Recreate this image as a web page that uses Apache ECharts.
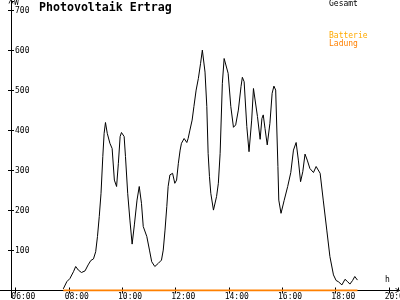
<!DOCTYPE html>
<html><head><meta charset="utf-8">
<script src="https://cdn.jsdelivr.net/npm/echarts@6/dist/echarts.min.js"></script>
<style>html,body{margin:0;padding:0;background:#fff}#c{width:400px;height:300px}</style>
</head><body><div id="c"></div>
<script>
// ---- data ----
const times = ['7:47','7:55','8:02','8:10','8:15','8:21','8:28','8:36','8:43','8:49','8:55','9:00','9:04','9:08','9:12','9:16','9:19','9:22','9:26','9:32','9:37','9:42','9:47','9:51','9:55','9:58','10:04','10:07','10:12','10:17','10:22','10:27','10:33','10:38','10:43','10:47','10:55','11:01','11:06','11:13','11:21','11:28','11:32','11:36','11:40','11:43','11:47','11:53','11:58','12:02','12:06','12:10','12:13','12:19','12:25','12:28','12:32','12:37','12:41','12:46','12:51','12:56','13:00','13:06','13:10','13:13','13:16','13:19','13:25','13:32','13:36','13:40','13:45','13:49','13:53','13:58','14:04','14:10','14:15','14:21','14:27','14:30','14:34','14:40','14:45','14:51','14:55','14:58','15:04','15:10','15:14','15:17','15:21','15:26','15:32','15:37','15:41','15:45','15:50','15:52','15:57','16:04','16:12','16:19','16:25','16:31','16:36','16:41','16:46','16:51','16:56','17:02','17:10','17:16','17:20','17:25','17:32','17:40','17:47','17:55','18:01','18:06','18:14','18:21','18:27','18:32','18:38','18:43','18:49'];
const gesamt = [4,22,30,47,60,51,45,49,64,75,79,97,135,185,243,335,393,420,393,368,355,276,260,318,385,395,385,335,243,176,116,164,226,260,218,160,135,101,72,60,68,76,101,151,210,260,289,293,268,276,318,351,368,380,370,380,401,426,460,501,530,568,601,546,460,343,285,243,201,235,268,343,518,580,583,543,460,408,414,451,510,533,522,410,347,426,505,503,435,378,430,439,405,364,418,493,511,501,310,226,193,225,260,295,351,370,326,272,297,341,326,305,295,310,314,293,226,151,85,39,25,22,14,28,22,16,25,35,26];
const ladungTimes = ['7:47','18:49'];
const ladung = [0, 0];
const seriesNames = ['Gesamt', 'Batterie', 'Ladung'];
const titleText = 'Photovoltaik Ertrag';
const yTickStep = 100;
const xTickStep = 2;

// ---- helpers ----
const toH = t => { const p = t.split(':'); return Number(p[0]) + Number(p[1]) / 60; };
const fmtX = v => (v < 10 ? '0' : '') + v + ':00';
const MONO = 'DejaVu Sans Mono';
const ARROW = 'path://M0,10 L5,0 L10,10 L8.4,10 L5,3.2 L1.6,10 Z';

const chart = echarts.init(document.getElementById('c'), null, {renderer: 'canvas'});

const xBase = {type: 'value', min: 6, max: 20 + 20 / 60, interval: xTickStep, position: 'bottom', splitLine: {show: false}};
const yBase = {type: 'value', min: 0, max: 724, interval: yTickStep, position: 'left', offset: 4.7, splitLine: {show: false}};

chart.setOption({
  animation: false,
  backgroundColor: '#fff',
  grid: {left: 15.7, right: 2.1, top: 0.9, bottom: 9.5, containLabel: false, outerBoundsMode: 'none'},
  title: [
    {text: titleText, left: 39, top: 1.5, padding: 0, textStyle: {fontFamily: MONO, fontSize: 11.6, fontWeight: 'bold', color: '#000'}},
    {text: seriesNames[0], left: 329, top: 0, padding: 0, textStyle: {fontFamily: MONO, fontSize: 8, fontWeight: 'normal', color: '#000'}},
    {text: seriesNames[1], left: 329, top: 31.5, padding: 0, textStyle: {fontFamily: MONO, fontSize: 8, fontWeight: 'normal', color: '#ffaa00'}},
    {text: seriesNames[2], left: 329, top: 39.5, padding: 0, textStyle: {fontFamily: MONO, fontSize: 8, fontWeight: 'normal', color: '#ff8000'}}
  ],
  xAxis: [
    Object.assign({}, xBase, {
      axisLine: {show: true, onZero: false, symbol: ['none', ARROW], symbolSize: [7, 5], lineStyle: {color: '#000', width: 1}},
      axisTick: {show: true, length: 3, lineStyle: {color: '#000'}},
      axisLabel: {formatter: fmtX, fontFamily: MONO, fontSize: 8, color: '#000', margin: 2, align: 'center', padding: [0, 0, 0, 15.4], showMaxLabel: false},
      name: 'h', nameLocation: 'end', nameGap: -13,
      nameTextStyle: {fontFamily: MONO, fontSize: 8, color: '#000', align: 'left', verticalAlign: 'bottom', padding: [0, 0, 7, 0]}
    }),
    Object.assign({}, xBase, {
      axisLine: {show: false, onZero: false},
      axisTick: {show: true, inside: true, length: 3, lineStyle: {color: '#000'}},
      axisLabel: {show: false}
    })
  ],
  yAxis: [
    Object.assign({}, yBase, {
      axisLine: {show: true, onZero: false, symbol: ['none', ARROW], symbolSize: [7, 5], lineStyle: {color: '#000', width: 1}},
      axisTick: {show: true, length: 3, lineStyle: {color: '#000'}},
      axisLabel: {inside: true, margin: 4, fontFamily: MONO, fontSize: 8, color: '#000', showMinLabel: false, showMaxLabel: false},
      name: 'W', nameLocation: 'end', nameGap: 0,
      nameTextStyle: {fontFamily: MONO, fontSize: 8, color: '#000', align: 'left', verticalAlign: 'top', padding: [0, 0, 0, 3]}
    }),
    Object.assign({}, yBase, {
      axisLine: {show: false, onZero: false},
      axisTick: {show: true, inside: true, length: 3, lineStyle: {color: '#000'}},
      axisLabel: {show: false}
    })
  ],
  graphic: [
    {type: 'line', silent: true, shape: {x1: 0, y1: 290.5, x2: 16, y2: 290.5}, style: {stroke: '#000', lineWidth: 1}},
    {type: 'line', silent: true, shape: {x1: 11.5, y1: 290, x2: 11.5, y2: 298}, style: {stroke: '#000', lineWidth: 1}}
  ],
  series: [
    {name: seriesNames[2], type: 'line', xAxisIndex: 0, yAxisIndex: 0, showSymbol: false, symbol: 'none',
     lineStyle: {color: '#ff8000', width: 2}, data: ladungTimes.map((t, i) => [toH(t), ladung[i]]), z: 3},
    {name: seriesNames[0], type: 'line', xAxisIndex: 0, yAxisIndex: 0, showSymbol: false, symbol: 'none',
     lineStyle: {color: '#000', width: 1}, data: times.map((t, i) => [toH(t), gesamt[i]]), z: 4}
  ]
});
</script>
</body></html>
